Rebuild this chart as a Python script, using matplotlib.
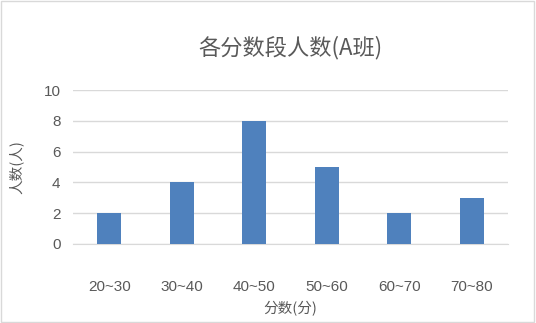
import matplotlib.pyplot as plt
from matplotlib.patches import Rectangle

plt.rcParams['font.family'] = ['Noto Sans CJK SC', 'DejaVu Sans']

categories = ["20~30", "30~40", "40~50", "50~60", "60~70", "70~80"]
counts = [2, 4, 8, 5, 2, 3]

fig = plt.figure(figsize=(5.36, 3.23), dpi=100)
ax = fig.add_axes([0.136, 0.245, 0.812, 0.476])

x = list(range(len(categories)))
ax.bar(x, counts, width=0.33, color="#4F81BD", zorder=3)

ax.set_xlim(-0.5, len(categories) - 0.5)
ax.set_ylim(0, 10)
ax.set_yticks([0, 2, 4, 6, 8, 10])
ax.set_xticks(x)
ax.set_xticklabels(categories, family=['Liberation Sans', 'DejaVu Sans'])
for lab in ax.get_yticklabels():
    lab.set_family(['Liberation Sans', 'DejaVu Sans'])
ax.tick_params(axis='both', length=0, labelsize=11, colors="#595959")
ax.tick_params(axis='x', pad=26)
ax.tick_params(axis='y', pad=9)
ax.grid(axis='y', color="#D9D9D9", linewidth=1, zorder=0)
for s in ["top", "right", "left"]:
    ax.spines[s].set_visible(False)
ax.spines["bottom"].set_color("#D9D9D9")

ax.set_title("各分数段人数(A班)", fontsize=16, color="#595959", pad=26)
ax.set_xlabel("分数(分)", fontsize=10.5, color="#595959", labelpad=5)
ax.set_ylabel("人数(人)", fontsize=10.5, color="#595959", labelpad=14)

fig.patches.append(Rectangle((0.002, 0.003), 0.995, 0.994, transform=fig.transFigure,
                             fill=False, edgecolor="#D9D9D9", linewidth=1))

fig.savefig("out.png", dpi=100)
